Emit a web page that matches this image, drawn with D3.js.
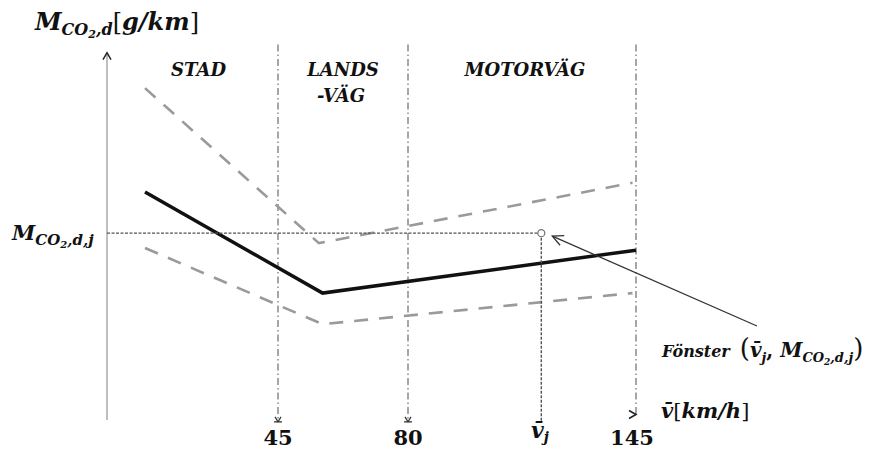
<!DOCTYPE html>
<html>
<head>
<meta charset="utf-8">
<script src="https://cdn.jsdelivr.net/npm/d3@7"></script>
<style>
  body { margin: 0; background: #fff; }
  text { font-family: "DejaVu Serif", "Liberation Serif", serif; font-weight: bold; fill: #111; }
</style>
</head>
<body>
<div id="container"></div>
<script>
// speed breakpoints (km/h) and zone names
var zoneSpeeds = [45, 80, 145];
var zoneNames = ["STAD", "LANDS", "MOTORVÄG"];
var vj = 118;
var Mj = 50.5;

// emission curves [speed, value]
var curveMain = [[10, 61.6], [57, 34.3], [145, 45.9]];
var curveUpper = [[10, 89.7], [56, 47.8], [144, 64.1]];
var curveLower = [[10, 46.5], [57, 25.9], [144, 34.3]];

var width = 875, height = 450;
var svg = d3.select('#container').append('svg')
  .attr('width', width)
  .attr('height', height);

// diagram scale is not to scale between zones
var x = d3.scaleLinear().domain([0, 45, 80, 145]).range([107, 278, 408, 636]);
var y = d3.scaleLinear().domain([0, 100]).range([420, 50]);

var line = d3.line()
  .x(function(d) { return x(d[0]); })
  .y(function(d) { return y(d[1]); });

// y axis
svg.append('line')
  .attr('x1', x(0)).attr('x2', x(0))
  .attr('y1', y(0)).attr('y2', y(99))
  .attr('stroke', '#aaa').attr('stroke-width', 1.5);
svg.append('path')
  .attr('d', 'M' + (x(0) - 4) + ',' + (y(99) + 6) + 'L' + x(0) + ',' + (y(99) - 1) + 'L' + (x(0) + 4) + ',' + (y(99) + 6))
  .attr('fill', 'none').attr('stroke', '#222').attr('stroke-width', 1.5);

// zone separators
svg.selectAll('.sep')
  .data(zoneSpeeds)
  .enter().append('line')
  .attr('class', 'sep')
  .attr('x1', function(d) { return x(d); })
  .attr('x2', function(d) { return x(d); })
  .attr('y1', y(101.5))
  .attr('y2', function(d) { return d === 145 ? y(1.5) : y(-0.5); })
  .attr('stroke', '#777').attr('stroke-width', 1.3)
  .attr('stroke-dasharray', '7,3,1.5,3');

// arrows at the bottom of 45 and 80
zoneSpeeds.slice(0, 2).forEach(function(s) {
  var bx = x(s), by = y(-0.5);
  svg.append('path')
    .attr('d', 'M' + (bx - 4) + ',' + by + 'L' + (bx + 4) + ',' + by +
      'M' + (bx - 3) + ',' + (by - 5) + 'L' + bx + ',' + by + 'L' + (bx + 3) + ',' + (by - 5))
    .attr('fill', 'none').attr('stroke', '#333').attr('stroke-width', 1.2);
});
// x axis arrow at 145
svg.append('path')
  .attr('d', 'M' + (x(145) - 7) + ',' + (y(1.5) - 4) + 'L' + x(145) + ',' + y(1.5) + 'L' + (x(145) - 7) + ',' + (y(1.5) + 4))
  .attr('fill', 'none').attr('stroke', '#222').attr('stroke-width', 1.6);

// dashed curves
[curveUpper, curveLower].forEach(function(c) {
  svg.append('path')
    .datum(c)
    .attr('d', line)
    .attr('fill', 'none')
    .attr('stroke', '#9a9a9a')
    .attr('stroke-width', 2.6)
    .attr('stroke-dasharray', '14,11');
});

// main curve
svg.append('path')
  .datum(curveMain)
  .attr('d', line)
  .attr('fill', 'none')
  .attr('stroke', '#111')
  .attr('stroke-width', 3.5);

// window point guides
svg.append('line')
  .attr('x1', x(0)).attr('x2', x(vj))
  .attr('y1', y(Mj)).attr('y2', y(Mj))
  .attr('stroke', '#555').attr('stroke-width', 1.4).attr('stroke-dasharray', '3,1.5');
svg.append('line')
  .attr('x1', x(vj)).attr('x2', x(vj))
  .attr('y1', y(Mj)).attr('y2', y(-0.5))
  .attr('stroke', '#555').attr('stroke-width', 1.4).attr('stroke-dasharray', '3,1.5');
svg.append('circle')
  .attr('cx', x(vj)).attr('cy', y(Mj)).attr('r', 3.5)
  .attr('fill', '#fff').attr('stroke', '#777').attr('stroke-width', 1.3);

// pointer from label to window point
var px0 = 757, py0 = 326, px1 = x(vj) + 11, py1 = y(Mj) + 3;
var ang = Math.atan2(py0 - py1, px0 - px1);
svg.append('line')
  .attr('x1', px0).attr('y1', py0).attr('x2', px1).attr('y2', py1)
  .attr('stroke', '#333').attr('stroke-width', 1.3);
svg.append('path')
  .attr('d', 'M' + (px1 + 12 * Math.cos(ang - 0.45)) + ',' + (py1 + 12 * Math.sin(ang - 0.45)) +
    'L' + px1 + ',' + py1 +
    'L' + (px1 + 12 * Math.cos(ang + 0.45)) + ',' + (py1 + 12 * Math.sin(ang + 0.45)))
  .attr('fill', 'none').attr('stroke', '#333').attr('stroke-width', 1.3);

// zone labels
var zx = [(x(0) + x(45)) / 2 + 6, (x(45) + x(80)) / 2, (x(80) + x(145)) / 2 + 3];
svg.selectAll('.zone')
  .data(zoneNames)
  .enter().append('text')
  .attr('class', 'zone')
  .attr('x', function(d, i) { return zx[i]; })
  .attr('y', 76)
  .attr('text-anchor', 'middle')
  .attr('font-style', 'italic')
  .attr('font-size', 18)
  .text(function(d) { return d; });
svg.append('text')
  .attr('x', zx[1] - 2).attr('y', 102)
  .attr('text-anchor', 'middle')
  .attr('font-style', 'italic').attr('font-size', 18)
  .text('-VÄG');

// tick labels
svg.selectAll('.tick')
  .data(zoneSpeeds)
  .enter().append('text')
  .attr('class', 'tick')
  .attr('x', function(d) { return d === 145 ? x(d) - 4 : x(d); })
  .attr('y', 445)
  .attr('text-anchor', 'middle')
  .attr('font-size', 21)
  .text(function(d) { return d; });

var tj = svg.append('text').attr('x', 531).attr('y', 438)
  .attr('font-style', 'italic').attr('font-size', 22);
tj.append('tspan').text('v̄');
tj.append('tspan').attr('dy', 4).attr('font-size', 14).text('j');

// y axis title
var ty = svg.append('text').attr('x', 35).attr('y', 30).attr('font-size', 24);
ty.append('tspan').attr('font-style', 'italic').text('M');
ty.append('tspan').attr('font-style', 'italic').attr('font-size', 16).attr('dy', 5).text('CO');
ty.append('tspan').attr('font-style', 'italic').attr('font-size', 11).attr('dy', 3).text('2');
ty.append('tspan').attr('font-style', 'italic').attr('font-size', 16).attr('dy', -3).text(',d');
ty.append('tspan').attr('dy', -5).attr('font-weight', 'normal').text('[');
ty.append('tspan').attr('font-style', 'italic').text('g/km');
ty.append('tspan').attr('font-weight', 'normal').text(']');

// M_j label
var tm = svg.append('text').attr('x', 12).attr('y', 240).attr('font-size', 21);
tm.append('tspan').attr('font-style', 'italic').text('M');
tm.append('tspan').attr('font-style', 'italic').attr('font-size', 15).attr('dy', 5).text('CO');
tm.append('tspan').attr('font-style', 'italic').attr('font-size', 10).attr('dy', 3).text('2');
tm.append('tspan').attr('font-style', 'italic').attr('font-size', 15).attr('dy', -3).text(',d,j');

// window label
var tf = svg.append('text').attr('x', 662).attr('y', 357).attr('font-size', 16);
tf.append('tspan').attr('font-style', 'italic').text('Fönster');
tf.append('tspan').attr('dx', 10).attr('font-size', 26).attr('font-weight', 'normal').text('(');
tf.append('tspan').attr('font-style', 'italic').attr('font-size', 20).text('v̄');
tf.append('tspan').attr('font-style', 'italic').attr('font-size', 13).attr('dy', 5).text('j');
tf.append('tspan').attr('font-size', 20).attr('dy', -5).text(', ');
tf.append('tspan').attr('font-style', 'italic').attr('font-size', 20).text('M');
tf.append('tspan').attr('font-style', 'italic').attr('font-size', 13).attr('dy', 5).text('CO');
tf.append('tspan').attr('font-style', 'italic').attr('font-size', 9).attr('dy', 3).text('2');
tf.append('tspan').attr('font-style', 'italic').attr('font-size', 13).attr('dy', -3).text(',d,j');
tf.append('tspan').attr('font-size', 26).attr('font-weight', 'normal').attr('dy', -5).text(')');

// x axis title
var tx = svg.append('text').attr('x', 661).attr('y', 418).attr('font-size', 21);
tx.append('tspan').attr('font-style', 'italic').text('v̄');
tx.append('tspan').attr('font-weight', 'normal').text('[');
tx.append('tspan').attr('font-style', 'italic').text('km/h');
tx.append('tspan').attr('font-weight', 'normal').text(']');
</script>
</body>
</html>
